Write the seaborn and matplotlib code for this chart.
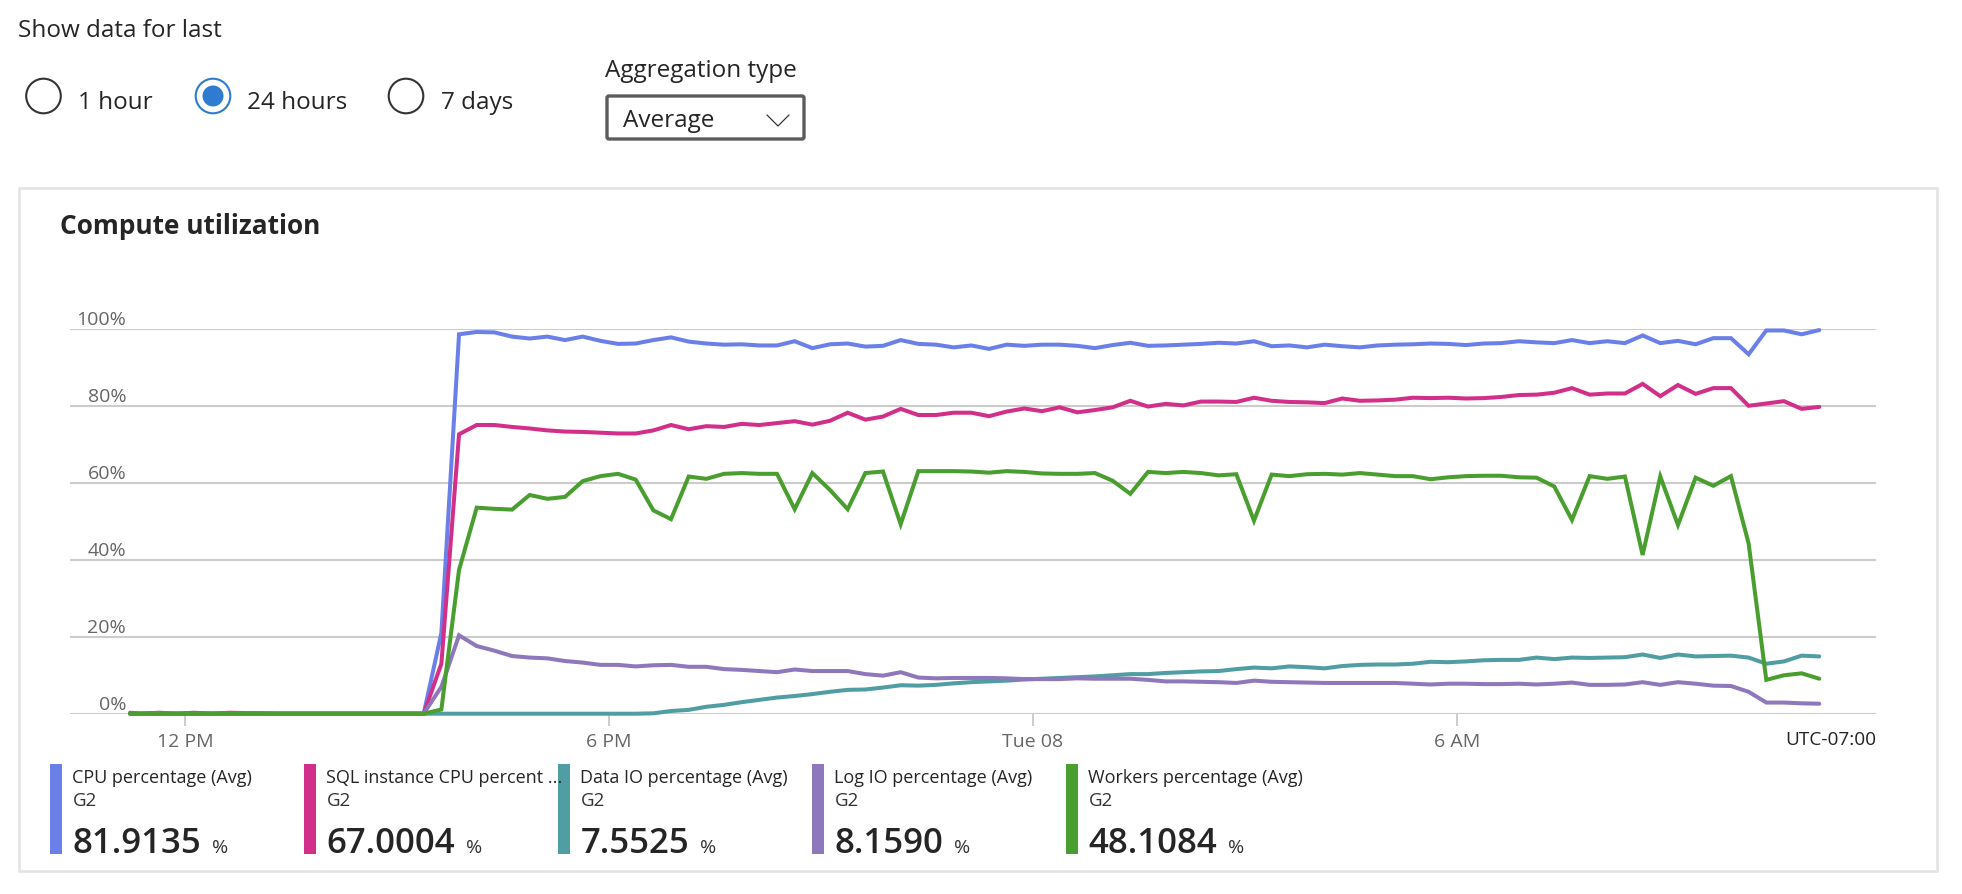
import matplotlib
matplotlib.use('Agg')
import matplotlib.pyplot as plt
from matplotlib.patches import Circle, Rectangle, FancyBboxPatch
import pandas as pd
import seaborn as sns

# ── Data ─────────────────────────────────────────────────────
first_time = pd.Timestamp('2021-11-08 11:13:20')
sample_times = pd.date_range('2021-11-08 11:22:40', periods=96, freq='15min')
times = [first_time] + list(sample_times)

cpu = [0, 0, 0, 0, 0, 0, 0, 0, 0, 0, 0, 0, 0, 0, 0, 0, 0,
       0, 21, 98.7, 99.3, 99.2, 98.1, 97.6, 98.1, 97.2, 98.1, 97, 96.2, 96.3, 97.2, 97.9, 96.8,
       96.3, 96, 96.1, 95.8, 95.8, 96.9, 95.1, 96.1, 96.3, 95.5, 95.7, 97.2, 96.2, 96, 95.3, 95.8, 94.9,
       96, 95.7, 96, 96, 95.7, 95.1, 95.9, 96.5, 95.7, 95.8, 96, 96.2, 96.5, 96.3, 96.9, 95.6,
       95.8, 95.3, 96, 95.6, 95.3, 95.8, 96, 96.1, 96.3, 96.2, 95.9, 96.3,
       96.4, 96.9, 96.6, 96.4, 97.2, 96.4, 96.9, 96.4, 98.4, 96.4, 97, 96.1, 97.7, 97.7, 93.5,
       99.7, 99.7, 98.7, 99.8]
sql_cpu = [0.25, 0, 0.25, 0, 0.25, 0, 0.25, 0.15, 0.1, 0, 0, 0, 0, 0, 0, 0, 0,
           0, 13, 72.7, 75.1, 75.1, 74.6, 74.2, 73.7, 73.4, 73.3, 73.1, 72.9, 72.9, 73.7, 75.1, 74,
           74.8, 74.6, 75.4, 75.1, 75.6, 76.1, 75.2, 76.2, 78.3, 76.5, 77.3, 79.3, 77.7, 77.7, 78.3, 78.3, 77.4,
           78.6, 79.4, 78.7, 79.7, 78.4, 79, 79.7, 81.4, 79.9, 80.6, 80.2, 81.2, 81.2, 81.1, 82.2, 81.4,
           81.1, 81, 80.8, 82, 81.4, 81.5, 81.7, 82.2, 82.1, 82.2, 82, 82.1,
           82.4, 82.9, 83, 83.5, 84.7, 83, 83.3, 83.3, 85.8, 82.6, 85.5, 83.2, 84.7, 84.7, 80.1,
           80.7, 81.3, 79.3, 79.8]
data_io = [0, 0, 0, 0, 0, 0, 0, 0, 0, 0, 0, 0, 0, 0, 0, 0, 0,
           0, 0, 0, 0, 0, 0, 0, 0, 0, 0, 0, 0, 0, 0.1, 0.7, 1,
           1.8, 2.3, 3, 3.6, 4.2, 4.6, 5.1, 5.7, 6.2, 6.3, 6.8, 7.4, 7.3, 7.5, 7.9, 8.2, 8.4,
           8.6, 8.9, 9.1, 9.3, 9.5, 9.7, 10, 10.3, 10.3, 10.6, 10.8, 11, 11.1, 11.6, 12, 11.8,
           12.3, 12.1, 11.8, 12.4, 12.7, 12.8, 12.8, 13, 13.5, 13.4, 13.6, 13.9,
           14, 14, 14.6, 14.2, 14.6, 14.5, 14.6, 14.7, 15.4, 14.5, 15.4, 14.9, 15, 15.1, 14.6,
           13, 13.6, 15.1, 14.9]
log_io = [0, 0, 0, 0, 0, 0, 0, 0, 0, 0, 0, 0, 0, 0, 0, 0, 0,
          0, 7, 20.4, 17.6, 16.4, 15, 14.6, 14.4, 13.7, 13.3, 12.7, 12.7, 12.3, 12.6, 12.7, 12.2,
          12.2, 11.6, 11.4, 11.1, 10.8, 11.5, 11.1, 11.1, 11.1, 10.3, 9.9, 10.8, 9.4, 9.2, 9.3, 9.3, 9.3,
          9.2, 9, 9, 9, 9.2, 9.1, 9.1, 9.1, 8.8, 8.4, 8.4, 8.3, 8.2, 8, 8.6, 8.3,
          8.2, 8.1, 8, 8, 8, 8, 8, 7.8, 7.6, 7.8, 7.8, 7.7,
          7.7, 7.8, 7.6, 7.8, 8.1, 7.5, 7.5, 7.6, 8.2, 7.5, 8.2, 7.8, 7.3, 7.2, 5.7,
          2.9, 2.9, 2.7, 2.6]
workers = [0, 0, 0, 0, 0, 0, 0, 0, 0, 0, 0, 0, 0, 0, 0, 0, 0,
           0, 1.1, 37.4, 53.6, 53.3, 53.1, 56.9, 55.9, 56.4, 60.5, 61.8, 62.4, 60.9, 52.9, 50.6, 61.7,
           61.1, 62.4, 62.6, 62.4, 62.4, 53.2, 62.6, 58.2, 53.2, 62.6, 63, 49.3, 63.1, 63.1, 63.1, 63, 62.7,
           63.1, 62.9, 62.5, 62.4, 62.4, 62.6, 60.6, 57.2, 62.9, 62.6, 62.9, 62.6, 62, 62.3, 50.2, 62.2,
           61.8, 62.3, 62.4, 62.2, 62.6, 62.2, 61.8, 61.8, 61, 61.5, 61.8, 61.9,
           61.9, 61.5, 61.4, 59.1, 50.4, 61.8, 61.1, 61.7, 41.3, 61.7, 49.1, 61.4, 59.3, 61.8, 44.3,
           8.8, 10, 10.5, 9.1]

series_names = ['CPU percentage (Avg)', 'SQL instance CPU percent ...', 'Data IO percentage (Avg)',
                'Log IO percentage (Avg)', 'Workers percentage (Avg)']
series_avgs = ['81.9135', '67.0004', '7.5525', '8.1590', '48.1084']
series_colors = ['#6a80e8', '#d12f8a', '#509ea3', '#8f77bc', '#4a9e2f']

y_ticks = [0, 20, 40, 60, 80, 100]
x_tick_times = pd.to_datetime(['2021-11-08 12:00', '2021-11-08 18:00', '2021-11-09 00:00', '2021-11-09 06:00'])
x_tick_labels = ['12 PM', '6 PM', 'Tue 08', '6 AM']

df = pd.DataFrame({'time': times, series_names[0]: cpu, series_names[1]: sql_cpu,
                   series_names[2]: data_io, series_names[3]: log_io, series_names[4]: workers})
long_df = df.melt(id_vars='time', var_name='metric', value_name='pct')

# ── Figure ───────────────────────────────────────────────────
W, H = 1962, 894
sns.set_theme(style='white')
plt.rcParams['font.family'] = ['Open Sans', 'DejaVu Sans']

fig = plt.figure(figsize=(W / 100, H / 100), dpi=100)

# page-level widgets are drawn on an overlay in pixel coordinates
ui = fig.add_axes([0, 0, 1, 1])
ui.set_xlim(0, W)
ui.set_ylim(H, 0)
ui.axis('off')

DARK = '#252525'
TOP_SIZE = 17.5


def label(x, y, s, size, color=DARK, weight='normal', ha='left', va='center'):
    ui.text(x, y, s, fontsize=size, color=color, fontweight=weight, ha=ha, va=va)


# Time range radios
label(18, 31, 'Show data for last', TOP_SIZE)
for cx in [43.5, 213, 406]:
    sel = cx == 213
    ui.add_patch(Circle((cx, 96), 17.3, fill=False, lw=1.5, ec='#2f7bd0' if sel else '#333333'))
ui.add_patch(Circle((213, 96), 10.5, fc='#2f7bd0', ec='none'))
label(78.5, 103, '1 hour', TOP_SIZE)
label(247, 103, '24 hours', TOP_SIZE)
label(441, 103, '7 days', TOP_SIZE)

# Aggregation dropdown
label(605, 71, 'Aggregation type', TOP_SIZE)
ui.add_patch(FancyBboxPatch((607, 96), 197, 43, boxstyle='round,pad=0,rounding_size=2',
                            fc='white', ec='#5c5c5c', lw=2.4))
label(623, 121, 'Average', TOP_SIZE)
ui.plot([767, 778, 789], [115, 126, 115], color='#333333', lw=0.9)

# Chart card
ui.add_patch(Rectangle((19, 187.5), 1918, 683, fill=False, ec='#e4e4e4', lw=1.9))
label(60, 226, 'Compute utilization', 18.9, weight='bold')

# ── Line chart ───────────────────────────────────────────────
x0, x1 = 70, 1876
y_top, y_bottom = 329.3, 713.7
ax = fig.add_axes([x0 / W, 1 - y_bottom / H, (x1 - x0) / W, (y_bottom - y_top) / H])
ax.patch.set_alpha(0)

sns.lineplot(data=long_df, x='time', y='pct', hue='metric', hue_order=series_names,
             palette=series_colors, estimator=None, errorbar=None, linewidth=2.9,
             solid_joinstyle='miter', clip_on=False, legend=False, ax=ax)

ax.set_xlim(pd.Timestamp('2021-11-08 10:22:20'), pd.Timestamp('2021-11-09 11:55:50'))
ax.set_ylim(0, 100)
ax.set_xlabel('')
ax.set_ylabel('')
sns.despine(ax=ax, left=True, top=True, right=True, bottom=True)

ax.set_yticks(y_ticks)
ax.set_yticklabels([f'{v}%' for v in y_ticks], fontsize=14, color='#666666', ha='right', va='bottom')
ax.tick_params(axis='y', length=0, pad=-40.5)
ax.set_xticks(x_tick_times)
ax.set_xticklabels(x_tick_labels, fontsize=14, color='#666666')
ax.tick_params(axis='x', length=8.6, width=1.4, color='#cccccc', pad=5, bottom=True)
ax.yaxis.grid(True, color='#cccccc', linewidth=1.5)
ax.set_axisbelow(True)

label(1876, 740, 'UTC-07:00', 13.7, color='#222222', ha='right')

# ── Summary legend under the chart ───────────────────────────
legend_x = [50, 304, 558, 812, 1066]
for lx, name, avg, color in zip(legend_x, series_names, series_avgs, series_colors):
    ui.add_patch(Rectangle((lx, 764), 12, 90, fc=color, ec='none'))
    label(lx + 22.5, 778, name, 13)
    label(lx + 22.5, 801, 'G2', 13.5, color='#333333')
    txt = ui.text(lx + 22.5, 853, avg, fontsize=25, color=DARK, fontweight='semibold', ha='left', va='baseline')
    fig.canvas.draw()
    bbox = txt.get_window_extent()
    ui.text(bbox.x1 + 11, 853, '%', fontsize=14, color='#333333', ha='left', va='baseline')

fig.savefig('out.png', dpi=100)
plt.close(fig)
